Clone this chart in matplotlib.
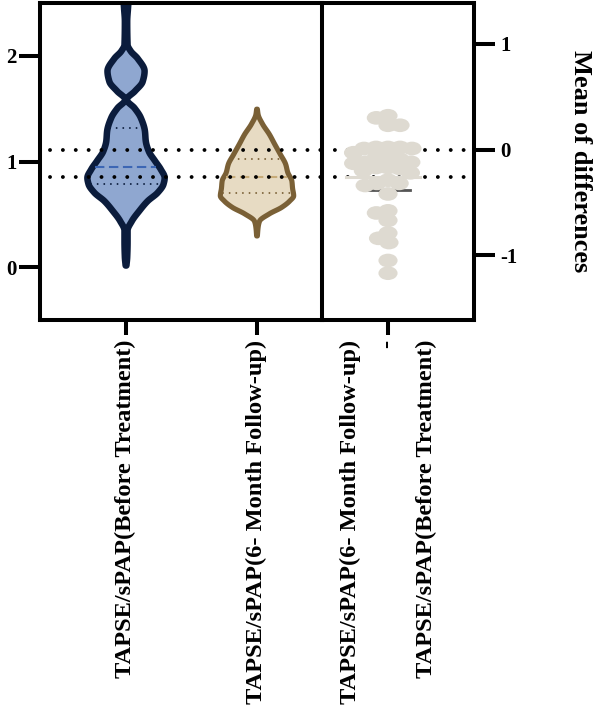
import numpy as np
import matplotlib
matplotlib.use('Agg')
import matplotlib.pyplot as plt
from matplotlib.path import Path

plt.rcParams['font.family'] = ['Liberation Serif', 'DejaVu Serif']
plt.rcParams['font.weight'] = 'bold'
plt.rcParams['axes.unicode_minus'] = False

# ---------------- data ----------------
groups = ['TAPSE/sPAP(Before Treatment)', 'TAPSE/sPAP(6- Month Follow-up)']
diff_label = 'TAPSE/sPAP(6- Month Follow-up)\n-\nTAPSE/sPAP(Before Treatment)'
diff_axis_label = 'Mean of differences'

before_coords = [0.02, 0.10, 0.25, 0.35, 0.44, 0.54, 0.63, 0.71, 0.79, 0.85,
                 0.93, 1.01, 1.10, 1.20, 1.29, 1.42, 1.51, 1.59, 1.67, 1.76,
                 1.86, 1.98, 2.05, 2.11, 2.33, 2.45, 2.60]
before_density = [0.01, 0.03, 0.04, 0.04, 0.15, 0.35, 0.56, 0.82, 0.97, 1.00,
                  0.90, 0.75, 0.59, 0.51, 0.49, 0.38, 0.22, 0.02, 0.23, 0.43,
                  0.48, 0.30, 0.12, 0.04, 0.03, 0.05, 0.08]
before_quartiles = [0.79, 0.947, 1.32]   # Q1, median, Q3

after_coords = [0.30, 0.38, 0.44, 0.51, 0.57, 0.63, 0.68, 0.75, 0.82, 0.90,
                0.98, 1.07, 1.17, 1.26, 1.36, 1.45, 1.50]
after_density = [0.01, 0.03, 0.07, 0.34, 0.67, 0.89, 1.00, 0.97, 0.95, 0.84,
                 0.78, 0.64, 0.48, 0.34, 0.15, 0.03, 0.01]
after_quartiles = [0.70, 0.858, 1.02]

mean_before = 1.113
mean_after = 0.858

differences = [0.32, 0.30, 0.23, 0.23,
               0.02, -0.03, 0.01, 0.02, 0.01, 0.02, -0.12, -0.13, -0.12, -0.08,
               -0.07, -0.09, -0.20, -0.22, -0.18, -0.17, -0.17, -0.32, -0.29,
               -0.34, -0.32, -0.42, -0.58, -0.60, -0.67, -0.84, -0.79, -0.88,
               -1.05, -1.17]
diff_bar_value = -0.387

left_yticks = [0, 1, 2]
right_yticks = [-1, 0, 1]


def pchip(x, y, xn):
    """Shape-preserving cubic used only to draw a smooth outline."""
    x = np.asarray(x, float)
    y = np.asarray(y, float)
    h = np.diff(x)
    delta = np.diff(y) / h
    n = len(x)
    d = np.zeros(n)
    for k in range(1, n - 1):
        if delta[k - 1] * delta[k] > 0:
            w1 = 2 * h[k] + h[k - 1]
            w2 = h[k] + 2 * h[k - 1]
            d[k] = (w1 + w2) / (w1 / delta[k - 1] + w2 / delta[k])
    d[0] = delta[0]
    d[-1] = delta[-1]
    idx = np.clip(np.searchsorted(x, xn) - 1, 0, n - 2)
    t = (xn - x[idx]) / h[idx]
    h00 = 2 * t ** 3 - 3 * t ** 2 + 1
    h10 = t ** 3 - 2 * t ** 2 + t
    h01 = -2 * t ** 3 + 3 * t ** 2
    h11 = t ** 3 - t ** 2
    return (h00 * y[idx] + h10 * h[idx] * d[idx] + h01 * y[idx + 1]
            + h11 * h[idx] * d[idx + 1])


# ---------------- styling ----------------
W, H = 596, 705
fig = plt.figure(figsize=(W / 100, H / 100), dpi=100)
ax = fig.add_axes([40 / W, 1 - 320 / H, (322 - 40) / W, (320 - 3) / H])
ax2 = fig.add_axes([322 / W, 1 - 320 / H, (474 - 322) / W, (320 - 3) / H])

ylim = (-0.5, 2.5)
ax.set_ylim(*ylim)
ax.set_xlim(-0.653, 1.5)
ax2.set_ylim(ylim[0] - mean_before, ylim[1] - mean_before)
ax2.set_xlim(-66, 86)

spine_lw = 2.9
for a in (ax, ax2):
    for s in a.spines.values():
        s.set_linewidth(spine_lw)
ax.spines['right'].set_visible(False)

navy = '#0b1c3c'
blue_fill = '#8fa7d0'
blue_med = '#3c66b4'
brown = '#7a6036'
tan_fill = '#e7dbc3'
tan_med = '#c7ab78'
dot_col = '#dedad1'

violins = [
    (0, before_coords, before_density, before_quartiles, 0.59, blue_fill, navy, 4.7, blue_med),
    (1, after_coords, after_density, after_quartiles, 0.56, tan_fill, brown, 3.7, tan_med),
]
for pos, coords, dens, quart, width, face, edge, lw, medc in violins:
    coords = np.asarray(coords, float)
    dens = np.asarray(dens, float)
    fine = np.linspace(coords.min(), coords.max(), 400)
    fine_d = np.clip(pchip(coords, dens, fine), 0, None)
    stats = [dict(coords=fine, vals=fine_d, mean=np.nan, median=quart[1],
                  min=coords.min(), max=coords.max())]
    parts = ax.violin(stats, positions=[pos], widths=width, showmeans=False,
                      showextrema=False, showmedians=False)
    for b in parts['bodies']:
        b.set_facecolor(face)
        b.set_edgecolor(edge)
        b.set_linewidth(lw)
        b.set_alpha(1)
        b.set_joinstyle('round')
        b.set_zorder(2)
    inset = (lw / 72 * 100) / 2 / 131
    for i, q in enumerate(quart):
        hw = np.interp(q, fine, fine_d) / fine_d.max() * width / 2 - inset
        if i == 1:
            ax.plot([pos - hw, pos + hw], [q, q], color=medc, lw=1.5,
                    linestyle=(0, (4.5, 2.2)), zorder=3)
        else:
            ax.plot([pos - hw, pos + hw], [q, q], color=edge, lw=1.4,
                    linestyle=(0, (0.01, 3.4)), dash_capstyle='round', zorder=3)

# reference (mean) dotted lines
for m in (mean_before, mean_after):
    ax.plot([-0.574, 1.5], [m, m], color='black', lw=2.8,
            linestyle=(0, (0.01, 3.3)), dash_capstyle='round', zorder=4,
            clip_on=False)
    ax2.plot([-66, 86], [m - mean_before, m - mean_before], color='black', lw=2.8,
             linestyle=(0, (0.01, 3.3)), dash_capstyle='round', zorder=1)

# beeswarm placement of the differences (in pixel units)
ypx_per_unit = (320 - 3) / (ylim[1] - ylim[0])
xscale = 1.4          # elliptical dots
dmin = 8.6            # allowed overlap
vals = np.asarray(differences, float)
order = np.argsort(-vals)
xs = np.zeros(len(vals))
placed = []
for idx in order:
    y = vals[idx] * ypx_per_unit
    cands = [0.0]
    near = []
    for j in placed:
        dy = y - vals[j] * ypx_per_unit
        if abs(dy) < dmin:
            half = np.sqrt(dmin ** 2 - dy ** 2) * xscale
            near.append((xs[j], half))
            cands += [xs[j] - half, xs[j] + half]
    best = None
    for c in sorted(cands, key=lambda v: (abs(v), v)):
        if all(abs(c - xj) >= h - 1e-6 for xj, h in near):
            best = c
            break
    xs[idx] = best
    placed.append(idx)

circ = Path.unit_circle()
ell = Path(circ.vertices * np.array([xscale, 1.0]), circ.codes)
ax2.scatter(xs, vals, s=190, marker=ell, color=dot_col, edgecolors='none', zorder=3)

mean_diff = float(np.mean(vals))
ax2.plot([xs.min() - 8, xs.max() + 8], [mean_diff, mean_diff], color=dot_col,
         lw=2.2, zorder=2.5)
ax2.plot([-23, 22], [diff_bar_value, diff_bar_value], color='#555555', lw=2,
         zorder=2)

# ticks and labels
ax.set_yticks(left_yticks)
ax.set_yticklabels([str(t) for t in left_yticks], fontsize=15, fontweight='bold')
ax.set_xticks([0, 1])
ax.set_xticklabels(groups, rotation=90, fontsize=17.6, fontweight='bold')
ax.tick_params(axis='y', length=15, width=spine_lw, pad=2)
ax.tick_params(axis='x', length=11, width=spine_lw, pad=3)

ax2.yaxis.tick_right()
ax2.set_yticks(right_yticks)
ax2.set_yticklabels([str(t) for t in right_yticks], fontsize=15, fontweight='bold')
ax2.set_xticks([0])
ax2.set_xticklabels([diff_label], rotation=90, fontsize=17.6, fontweight='bold',
                    multialignment='right', linespacing=2.05)
ax2.tick_params(axis='y', length=15, width=spine_lw, pad=4)
ax2.tick_params(axis='x', length=11, width=spine_lw, pad=3)

ax2.set_ylabel(diff_axis_label, fontsize=19, fontweight='bold', rotation=270,
               va='center', ha='center')
ax2.yaxis.set_label_position('right')
ax2.yaxis.label.set_rotation_mode('anchor')
ax2.yaxis.label.set_verticalalignment('center')
ax2.yaxis.set_label_coords((580 - 322) / 152, 0.5)

fig.savefig('out.png', dpi=100)
